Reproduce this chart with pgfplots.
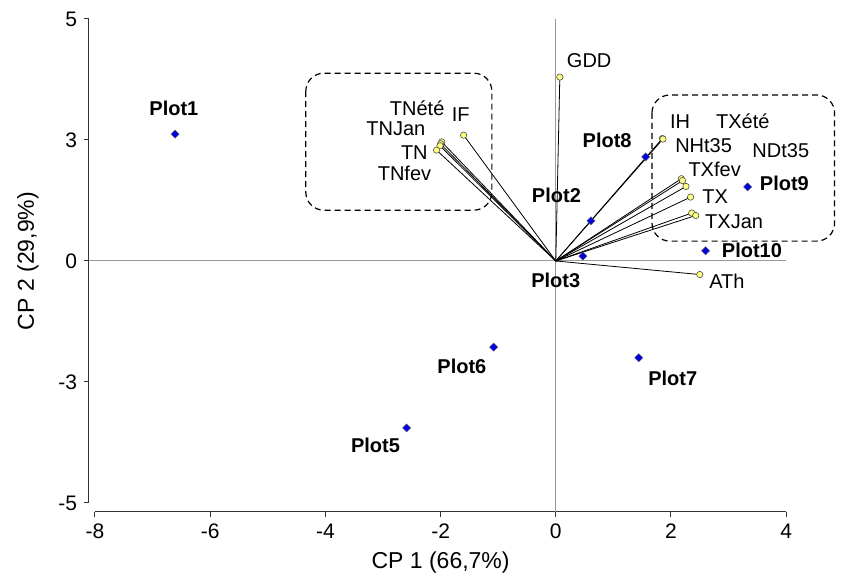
\documentclass[border=0pt]{standalone}
\usepackage{fontspec}
\setmainfont{Liberation Sans}
\usepackage{pgfplots}
\usepackage{pgfplotstable}
\pgfplotsset{compat=1.18}
\definecolor{obsblue}{HTML}{0000E0}
\definecolor{vecyellow}{HTML}{FFFF80}

% observations (individuals)
\pgfplotstableread{
x y
-6.61 2.62
0.61 0.83
0.47 0.10
-2.59 -3.45
-1.08 -1.78
1.44 -2.00
1.56 2.15
3.33 1.53
2.60 0.21
}\obstab

% variables (vectors from the origin)
\pgfplotstableread{
px py dx dy
0 0 0.07 3.80
0 0 -1.60 2.60
0 0 -1.98 2.46
0 0 -2.00 2.42
0 0 -2.01 2.38
0 0 -2.07 2.29
0 0 1.85 2.53
0 0 1.86 2.52
0 0 2.18 1.70
0 0 2.20 1.66
0 0 2.26 1.54
0 0 2.34 1.32
0 0 2.36 0.99
0 0 2.43 0.94
0 0 2.50 -0.28
}\vectab

\begin{document}
\begin{tikzpicture}
\useasboundingbox (-47.5pt,-36.5pt) rectangle (375.5pt,251.5pt);
\begin{axis}[
    at={(0,0)}, anchor=south west,
    scale only axis,
    width=345.6pt, height=242pt,
    xmin=-8, xmax=4, ymin=-5, ymax=5,
    axis x line*=bottom, axis y line*=left,
    axis x line shift=4.5pt, axis y line shift=3pt,
    axis line style={black!80, line width=0.5pt},
    tick align=outside,
    major tick length=2.5pt,
    tick style={black!80, line width=0.5pt},
    xtick={-8,-6,...,4},
    ytick={-5,-2.5,0,2.5,5},
    yticklabels={-5,-3,0,3,5},
    /pgf/number format/assume math mode=true,
    ticklabel style={font=\fontsize{10.5}{12}\selectfont},
    xlabel={CP 1 (66,7\%)},
    ylabel={CP 2 (29,9\%)},
    label style={font=\fontsize{11.5}{13}\selectfont},
    xlabel style={at={(axis description cs:0.5,0)}, anchor=center, yshift=-30pt},
    ylabel style={at={(axis description cs:0,0.5)}, anchor=center, yshift=33.5pt},
    clip=false,
]
\draw[gray!80, line width=0.5pt] (axis cs:0,5) -- (axis cs:0,-5.19);
\draw[gray!80, line width=0.5pt] (axis cs:-8.1,0) -- (axis cs:4,0);

\draw[dashed, dash pattern=on 3pt off 2pt, rounded corners=9pt, line width=0.6pt]
    (axis cs:-4.34,3.88) rectangle (axis cs:-1.11,1.05);
\draw[dashed, dash pattern=on 3pt off 2pt, rounded corners=9pt, line width=0.6pt]
    (axis cs:1.67,3.43) rectangle (axis cs:4.84,0.41);

\addplot[black, line width=0.4pt, no markers,
    quiver={u=\thisrow{dx}, v=\thisrow{dy}}] table[x=px, y=py] {\vectab};
\addplot[only marks, mark=*, mark size=1.6pt,
    mark options={fill=vecyellow, draw=black!70, line width=0.3pt}]
    table[x=dx, y=dy] {\vectab};
\addplot[only marks, mark=square*, mark size=1.45pt,
    mark options={rotate=45, fill=obsblue, draw=black!60, line width=0.2pt}]
    table[x=x, y=y] {\obstab};

\begin{scope}[every node/.style={font=\fontsize{10}{12}\selectfont, inner sep=0.5pt}]
\node at (axis cs:-1.65,3.02) {IF};
\node[anchor=east] at (axis cs:-1.91,3.16) {TNété};
\node[anchor=east] at (axis cs:-2.24,2.73) {TNJan};
\node[anchor=east] at (axis cs:-2.20,2.23) {TN};
\node[anchor=east] at (axis cs:-2.14,1.82) {TNfev};
\node[anchor=west] at (axis cs:0.17,4.15) {GDD};
\node[anchor=west] at (axis cs:1.96,2.88) {IH};
\node[anchor=west] at (axis cs:2.76,2.88) {TXété};
\node[anchor=west] at (axis cs:2.05,2.39) {NHt35};
\node[anchor=west] at (axis cs:3.39,2.27) {NDt35};
\node[anchor=west] at (axis cs:2.28,1.89) {TXfev};
\node[anchor=west] at (axis cs:2.52,1.34) {TX};
\node[anchor=west] at (axis cs:2.57,0.82) {TXJan};
\node[anchor=west] at (axis cs:2.64,-0.42) {ATh};
\end{scope}
\begin{scope}[every node/.style={font=\fontsize{10}{12}\selectfont\bfseries, inner sep=0.5pt}]
\node at (axis cs:-6.63,3.16) {Plot1};
\node[anchor=east] at (axis cs:0.46,1.36) {Plot2};
\node at (axis cs:0,-0.41) {Plot3};
\node at (axis cs:-3.13,-3.80) {Plot5};
\node at (axis cs:-1.63,-2.17) {Plot6};
\node at (axis cs:2.03,-2.42) {Plot7};
\node[anchor=east] at (axis cs:1.34,2.49) {Plot8};
\node[anchor=west] at (axis cs:3.52,1.60) {Plot9};
\node[anchor=west] at (axis cs:2.86,0.23) {Plot10};
\end{scope}
\end{axis}
\end{tikzpicture}
\end{document}
